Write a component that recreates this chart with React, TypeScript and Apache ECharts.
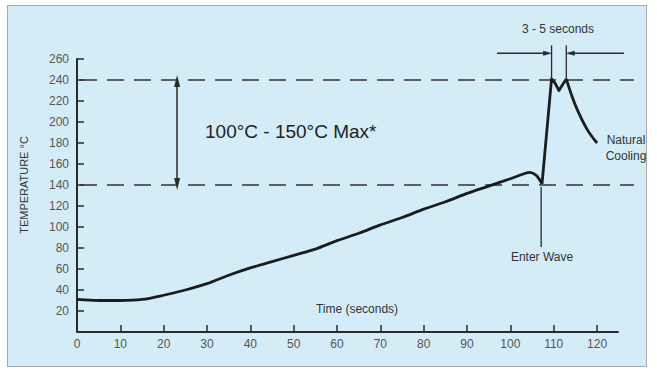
import React, { useEffect, useRef } from "react";
import * as echarts from "echarts";

// Heating ramp (smooth part)
const heatTime = [0, 5, 10, 15, 20, 25, 30, 35, 40, 45, 50, 55, 60, 65, 70, 75, 80, 85, 90, 95, 100, 103, 104.5, 106, 107.3];
const heatTemp = [31, 30, 30, 31, 35, 40, 46, 54, 61, 67, 73, 79, 87, 94, 102, 109, 117, 124, 132, 139, 146, 150.5, 152, 149, 141];
// Wave contact (sharp part)
const waveTime = [107.3, 109.5, 110.3, 111.2, 112.1, 112.9];
const waveTemp = [141, 241, 237, 230, 236, 241];
// Natural cooling
const coolTime = [112.9, 114, 115.4, 117.7, 120];
const coolTemp = [241, 227, 212, 193, 180];

const xTicks = [0, 10, 20, 30, 40, 50, 60, 70, 80, 90, 100, 110, 120];
const xAxisEnd = 125;
const limitTemps = [140, 240];

const FONT = "'Liberation Sans', Arial, sans-serif";
const LINE = "#2a2a2a";

function pairs(xs: number[], ys: number[]) {
  return xs.map((x, i) => [x, ys[i]]);
}

export default function App() {
  const ref = useRef<HTMLDivElement>(null);
  useEffect(() => {
    if (!ref.current) return;
    const chart = echarts.init(ref.current, null, { renderer: "svg" });
    const plain = (data: any[], extra: any = {}) => ({
      type: "line",
      data,
      symbol: "none",
      showSymbol: true,
      clip: false,
      silent: true,
      itemStyle: { color: LINE },
      lineStyle: { color: LINE, width: 1.3 },
      ...extra,
    });
    chart.setOption({
      animation: false,
      backgroundColor: "transparent",
      grid: { left: 77, top: 59, width: 563.4, height: 273, containLabel: false },
      xAxis: {
        type: "value",
        min: 0,
        max: 130,
        axisLine: { show: false },
        axisTick: { show: true, inside: true, length: 7, customValues: xTicks, lineStyle: { color: LINE, width: 1.5 } },
        axisLabel: { customValues: xTicks, fontSize: 12, color: "#555", margin: 6, fontFamily: FONT },
        splitLine: { show: false },
      },
      yAxis: {
        type: "value",
        min: 0,
        max: 260,
        interval: 20,
        axisLine: { show: true, lineStyle: { color: LINE, width: 2 } },
        axisTick: { show: true, inside: true, length: 7, lineStyle: { color: LINE, width: 1.5 } },
        axisLabel: { showMinLabel: false, fontSize: 12, color: "#555", margin: 8, fontFamily: FONT },
        splitLine: { show: false },
      },
      series: [
        // x axis baseline
        plain([[0, 0], [xAxisEnd, 0]], { lineStyle: { color: LINE, width: 2 } }),
        // dashed limit lines
        ...limitTemps.map((t) =>
          plain([[0.7, t], [128.5, t]], { lineStyle: { color: "#333", width: 1.6, type: [17, 10] } })
        ),
        // temperature curve
        plain(pairs(heatTime, heatTemp), { smooth: 0.3, lineStyle: { color: "#1c1c1c", width: 2.8 } }),
        plain(pairs(waveTime, waveTemp), { lineStyle: { color: "#1c1c1c", width: 2.8, join: "round" } }),
        plain(pairs(coolTime, coolTemp), { smooth: 0.4, lineStyle: { color: "#1c1c1c", width: 2.8 } }),
        // double arrow 100-150 C
        plain([[23.1, 140], [23.1, 240]], {
          markLine: {
            silent: true,
            symbol: ["triangle", "triangle"],
            symbolSize: [6, 12],
            label: { show: false },
            itemStyle: { color: LINE },
            lineStyle: { color: LINE, width: 1.5, type: "solid" },
            data: [[{ coord: [23.1, 141] }, { coord: [23.1, 239] }]],
          },
          lineStyle: { width: 0, opacity: 0 },
        }),
        // Enter Wave pointer
        plain([[107.1, 138], [107.1, 81]], { lineStyle: { color: LINE, width: 1.3 } }),
        // 3-5 seconds markers
        plain([[109.5, 241], [109.5, 273]]),
        plain([[112.9, 241], [112.9, 273]]),
        plain([
          [96.9, 265.5],
          { value: [108.6, 265.5], symbol: "triangle", symbolSize: [5, 9], symbolRotate: -90, itemStyle: { color: LINE } },
        ]),
        plain([
          [126.2, 265.5],
          { value: [113.8, 265.5], symbol: "triangle", symbolSize: [5, 9], symbolRotate: 90, itemStyle: { color: LINE } },
        ]),
      ],
      graphic: [
        {
          type: "text",
          x: 205,
          y: 131,
          style: { text: "100°C - 150°C Max*", font: `19px ${FONT}`, fill: "#222", textVerticalAlign: "middle" },
        },
        {
          type: "text",
          x: 558,
          y: 29,
          style: { text: "3 - 5 seconds", font: `12px ${FONT}`, fill: "#333", textAlign: "center", textVerticalAlign: "middle" },
        },
        {
          type: "text",
          x: 626,
          y: 148,
          style: {
            text: "Natural\nCooling",
            font: `12px ${FONT}`,
            lineHeight: 16,
            fill: "#333",
            textAlign: "center",
            textVerticalAlign: "middle",
          },
        },
        {
          type: "text",
          x: 542,
          y: 257,
          style: { text: "Enter Wave", font: `12px ${FONT}`, fill: "#333", textAlign: "center", textVerticalAlign: "middle" },
        },
        {
          type: "text",
          x: 357,
          y: 309,
          style: { text: "Time (seconds)", font: `12px ${FONT}`, fill: "#333", textAlign: "center", textVerticalAlign: "middle" },
        },
        {
          type: "text",
          x: 24,
          y: 185,
          rotation: Math.PI / 2,
          style: { text: "TEMPERATURE °C", font: `11px ${FONT}`, fill: "#333", textAlign: "center", textVerticalAlign: "middle" },
        },
      ],
    });
    return () => chart.dispose();
  }, []);

  return (
    <div style={{ position: "fixed", left: 0, top: 0, width: 657, height: 370, background: "#fff" }}>
      <div
        style={{
          position: "absolute",
          left: 7,
          top: 5,
          width: 640,
          height: 362,
          background: "#d4ecf7",
          border: "1.5px solid #a9a9a9",
          boxSizing: "border-box",
        }}
      />
      <div ref={ref} style={{ position: "absolute", left: 0, top: 0, width: 657, height: 370 }} />
    </div>
  );
}
